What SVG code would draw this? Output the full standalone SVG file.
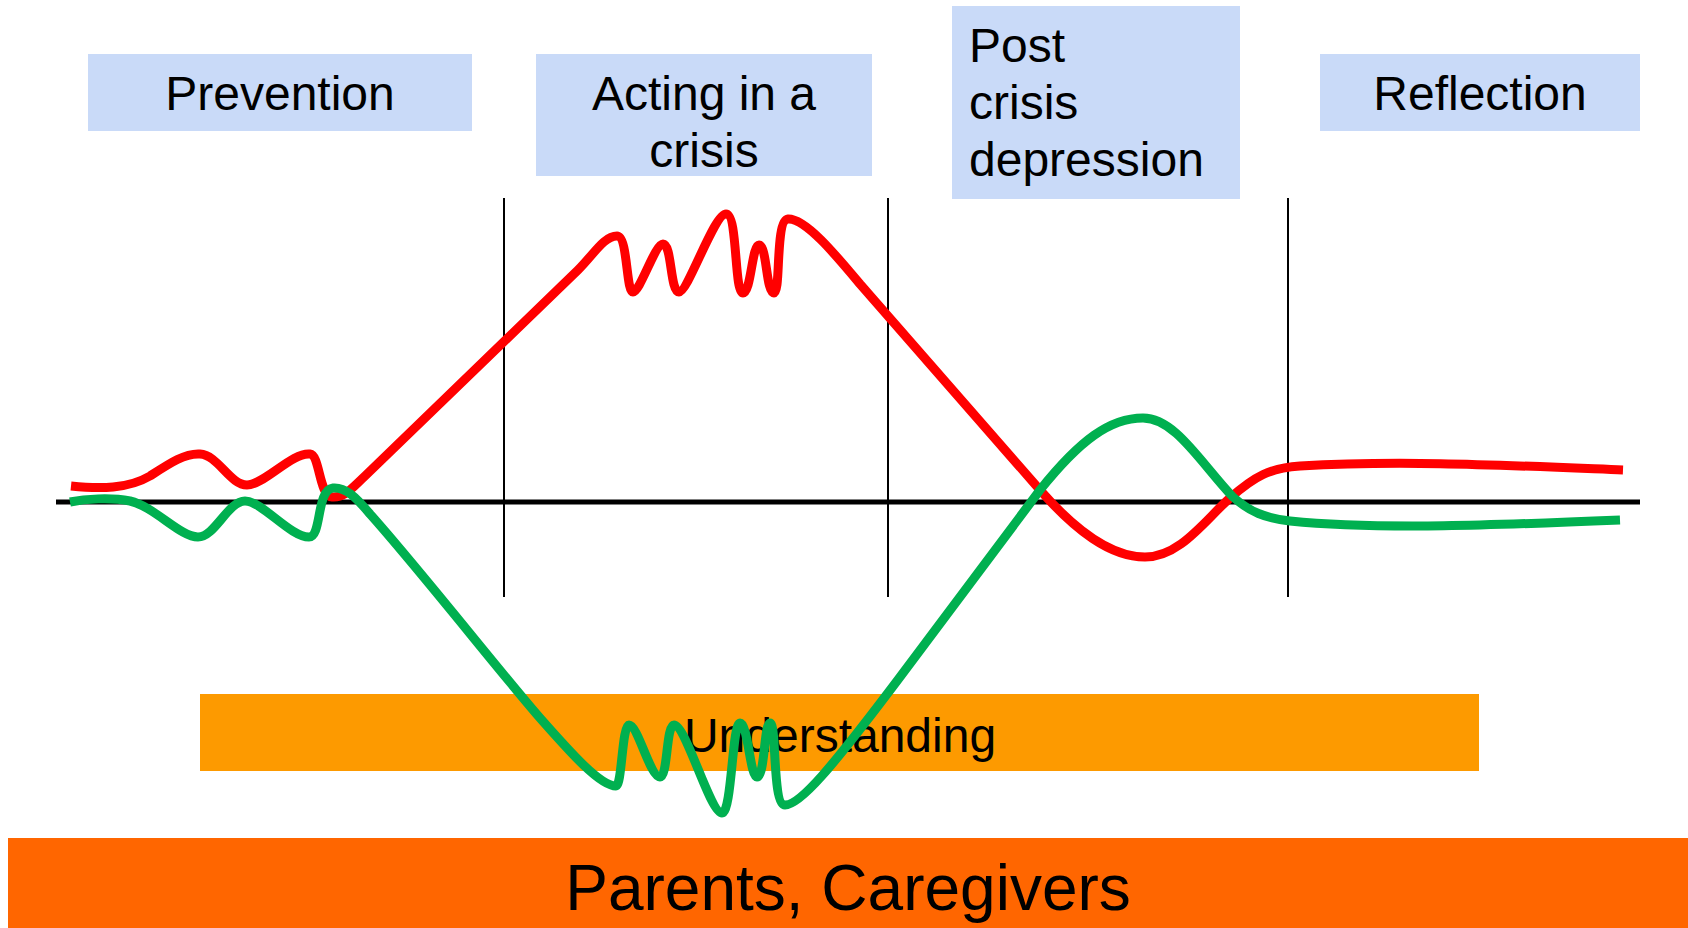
<svg xmlns="http://www.w3.org/2000/svg" width="1688" height="928" viewBox="0 0 1688 928">
  <style>
    .phase { fill: #C9DAF8; }
    .label { font-family: "Liberation Sans", Arial, sans-serif; font-size: 48px; fill: #000000; }
    .mid { text-anchor: middle; }
    .divider { stroke: #000000; stroke-width: 2; fill: none; }
    .axis { stroke: #000000; stroke-width: 5; fill: none; }
    .curve { fill: none; stroke-width: 9; stroke-linecap: butt; stroke-linejoin: round; }
    .stress { stroke: #FF0000; }
    .calm { stroke: #00B050; }
  </style>

  <rect width="1688" height="928" fill="#FFFFFF"/>

  <!-- phase headings -->
  <g id="prevention">
    <rect class="phase" x="88" y="54" width="384" height="77"/>
    <text class="label mid" x="280" y="110">Prevention</text>
  </g>
  <g id="acting-in-a-crisis">
    <rect class="phase" x="536" y="54" width="336" height="122"/>
    <text class="label mid" x="704" y="110">Acting in a</text>
    <text class="label mid" x="704" y="167">crisis</text>
  </g>
  <g id="post-crisis-depression">
    <rect class="phase" x="952" y="6" width="288" height="193"/>
    <text class="label" x="969" y="62">Post</text>
    <text class="label" x="969" y="119">crisis</text>
    <text class="label" x="969" y="176">depression</text>
  </g>
  <g id="reflection">
    <rect class="phase" x="1320" y="54" width="320" height="77"/>
    <text class="label mid" x="1480" y="110">Reflection</text>
  </g>

  <!-- supporting bands -->
  <g id="understanding">
    <rect x="200" y="694" width="1279" height="77" fill="#FD9A00"/>
    <text class="label mid" x="840" y="752">Understanding</text>
  </g>
  <g id="parents-caregivers">
    <rect x="8" y="838" width="1680" height="90" fill="#FF6600"/>
    <text class="label mid" x="848" y="910" style="font-size:64px">Parents, Caregivers</text>
  </g>

  <!-- axis, phase dividers and the two curves -->
  <g id="connectors">
    <line class="divider" x1="504" y1="198" x2="504" y2="597"/>
    <line class="divider" x1="888" y1="198" x2="888" y2="597"/>
    <line class="divider" x1="1288" y1="198" x2="1288" y2="597"/>
    <line class="axis" x1="56" y1="502" x2="1640" y2="502"/>

    <path class="curve stress" d="M 71,486
      C 100,489 128,489 150,476
      C 170,463 185,453 200,454
      C 218,455 230,485 247,485
      C 264,485 292,452 310,454
      C 320,455 319,496 332,497
      C 344,498 350,490 365,476
      L 578,270
      C 594,254 604,236 617,236
      C 628,236 626,292 633,292
      C 640,292 655,244 663,244
      C 672,244 670,292 679,292
      C 688,292 714,214 726,214
      C 738,214 734,293 743,293
      C 751,293 752,245 759,245
      C 767,245 766,293 774,293
      C 781,293 775,220 788,219
      C 805,218 835,254 860,284
      L 1040,490
      C 1075,530 1110,557 1145,557
      C 1180,557 1205,520 1230,498
      C 1255,476 1270,468 1300,466
      C 1400,460 1500,465 1623,470"/>

    <path class="curve calm" d="M 70,502
      C 85,499 110,497 130,501
      C 155,507 180,537 198,537
      C 215,537 228,501 245,501
      C 262,501 290,537 309,537
      C 322,537 316,490 333,488
      C 345,487 355,496 370,514
      C 420,570 500,672 540,718
      C 570,752 600,786 616,786
      C 622,786 622,725 629,725
      C 638,725 650,777 660,777
      C 668,777 666,725 674,725
      C 686,725 710,813 722,813
      C 732,813 732,723 740,723
      C 748,723 750,777 757,777
      C 765,777 764,723 770,723
      C 777,723 772,805 785,805
      C 800,805 830,770 900,677
      L 1040,490
      C 1080,440 1110,418 1143,418
      C 1175,418 1200,462 1233,497
      C 1250,512 1265,518 1290,521
      C 1380,530 1500,525 1620,520"/>
  </g>
</svg>
